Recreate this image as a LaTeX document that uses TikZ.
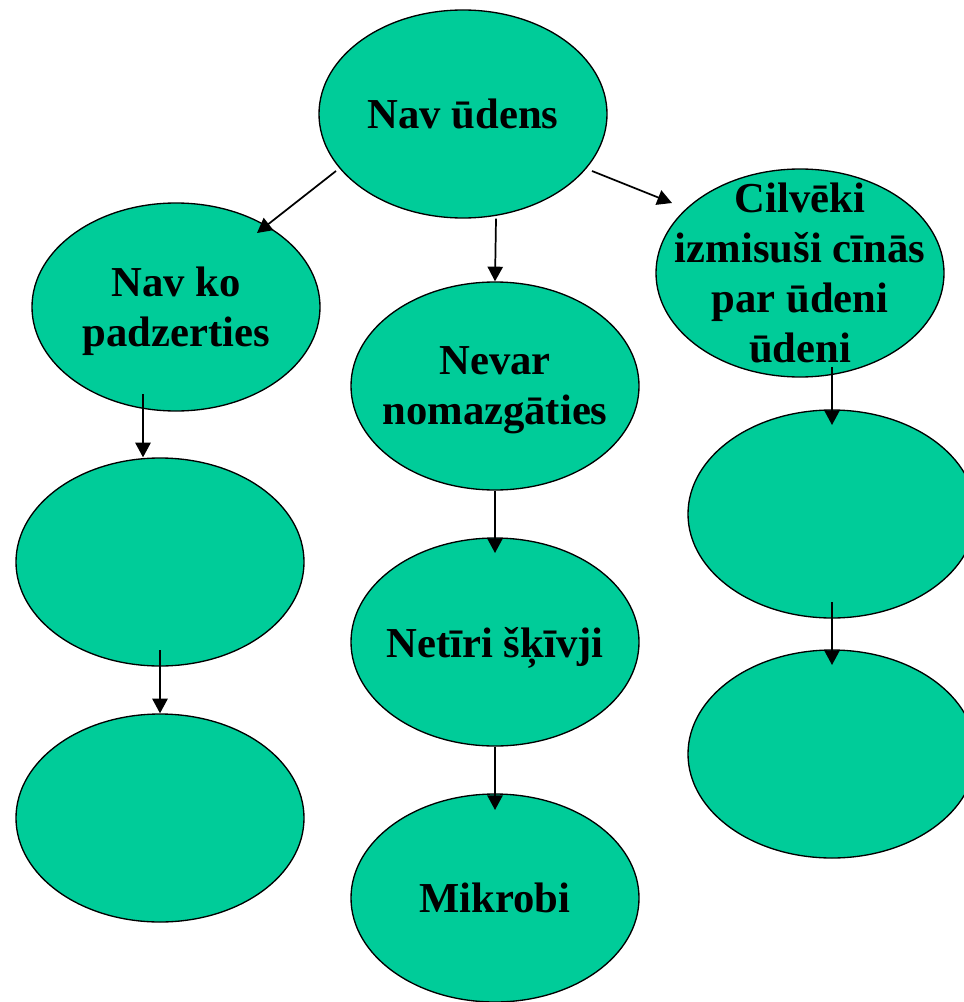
\documentclass[tikz,border=0pt]{standalone}
\usepackage{fontspec}
\setmainfont{Liberation Serif}
\usetikzlibrary{shapes.geometric,arrows.meta}
\definecolor{zals}{RGB}{0,204,153}

\begin{document}
\begin{tikzpicture}[x=0.75pt,y=-0.75pt,
	burbulis/.style={ellipse,draw=black,line width=1pt,fill=zals,minimum width=216pt,minimum height=156pt,inner sep=0pt},
	teksts/.style={align=center,font=\bfseries\fontsize{32}{37.5}\selectfont,text depth=0pt,inner sep=0pt},
	bulta/.style={-{Triangle[length=11pt,width=11.5pt]},line width=1.3pt}]
	% 页面大小,和原图一样 963 x 1002
	\useasboundingbox (0,0) rectangle (963,1002);
	
	% 画椭圆,中间一列
	\node[burbulis] (udens) at (463,114) {};
	\node[burbulis] (mazg) at (495,386) {};
	\node[burbulis] (skivji) at (495,642) {};
	\node[burbulis] (mikrobi) at (495,898) {};
	% 左边一列
	\node[burbulis] (dzert) at (176,307) {};
	\node[burbulis] (dzert2) at (160,562) {};
	\node[burbulis] (dzert3) at (160,818) {};
	% 右边一列,第二、三个椭圆超出右边界
	\node[burbulis] (cinas) at (800,273) {};
	\node[burbulis] (cinas2) at (832,514) {};
	\node[burbulis] (cinas3) at (832,754) {};
	
	% 椭圆里的文字
	\node[teksts] (udens-t) at (udens) {Nav ūdens};
	\node[teksts] (dzert-t) at (dzert) {Nav ko\\padzerties};
	\node[teksts] (mazg-t) at (mazg) {Nevar\\nomazgāties};
	\node[teksts] (skivji-t) at (skivji) {Netīri šķīvji};
	\node[teksts] (mikrobi-t) at (mikrobi) {Mikrobi};
	\node[teksts] (cinas-t) at (cinas) {Cilvēki\\izmisuši cīnās\\par ūdeni\\ūdeni};
	
	% 画箭头,从上面的椭圆指向下面的椭圆
	\draw[bulta] ([shift={(-127,57)}]udens.center) -- ([shift={(81,-74)}]dzert.center);
	\draw[bulta] ([shift={(33,0)}]udens.south) -- (mazg.north);
	\draw[bulta] ([shift={(129,57)}]udens.center) -- ([shift={(-128,-70)}]cinas.center);
	
	\draw[bulta] ([shift={(-33,87)}]dzert.center) -- ([shift={(-17,0)}]dzert2.north);
	\draw[bulta] ([shift={(0,88)}]dzert2.center) -- (dzert3.north);
	
	\draw[bulta] (mazg.south) -- ([shift={(0,-89)}]skivji.center);
	\draw[bulta] (skivji.south) -- ([shift={(0,-88)}]mikrobi.center);
	
	\draw[bulta] ([shift={(32,94)}]cinas.center) -- ([shift={(0,-89)}]cinas2.center);
	\draw[bulta] ([shift={(0,88)}]cinas2.center) -- ([shift={(0,-89)}]cinas3.center);
\end{tikzpicture}
\end{document}
